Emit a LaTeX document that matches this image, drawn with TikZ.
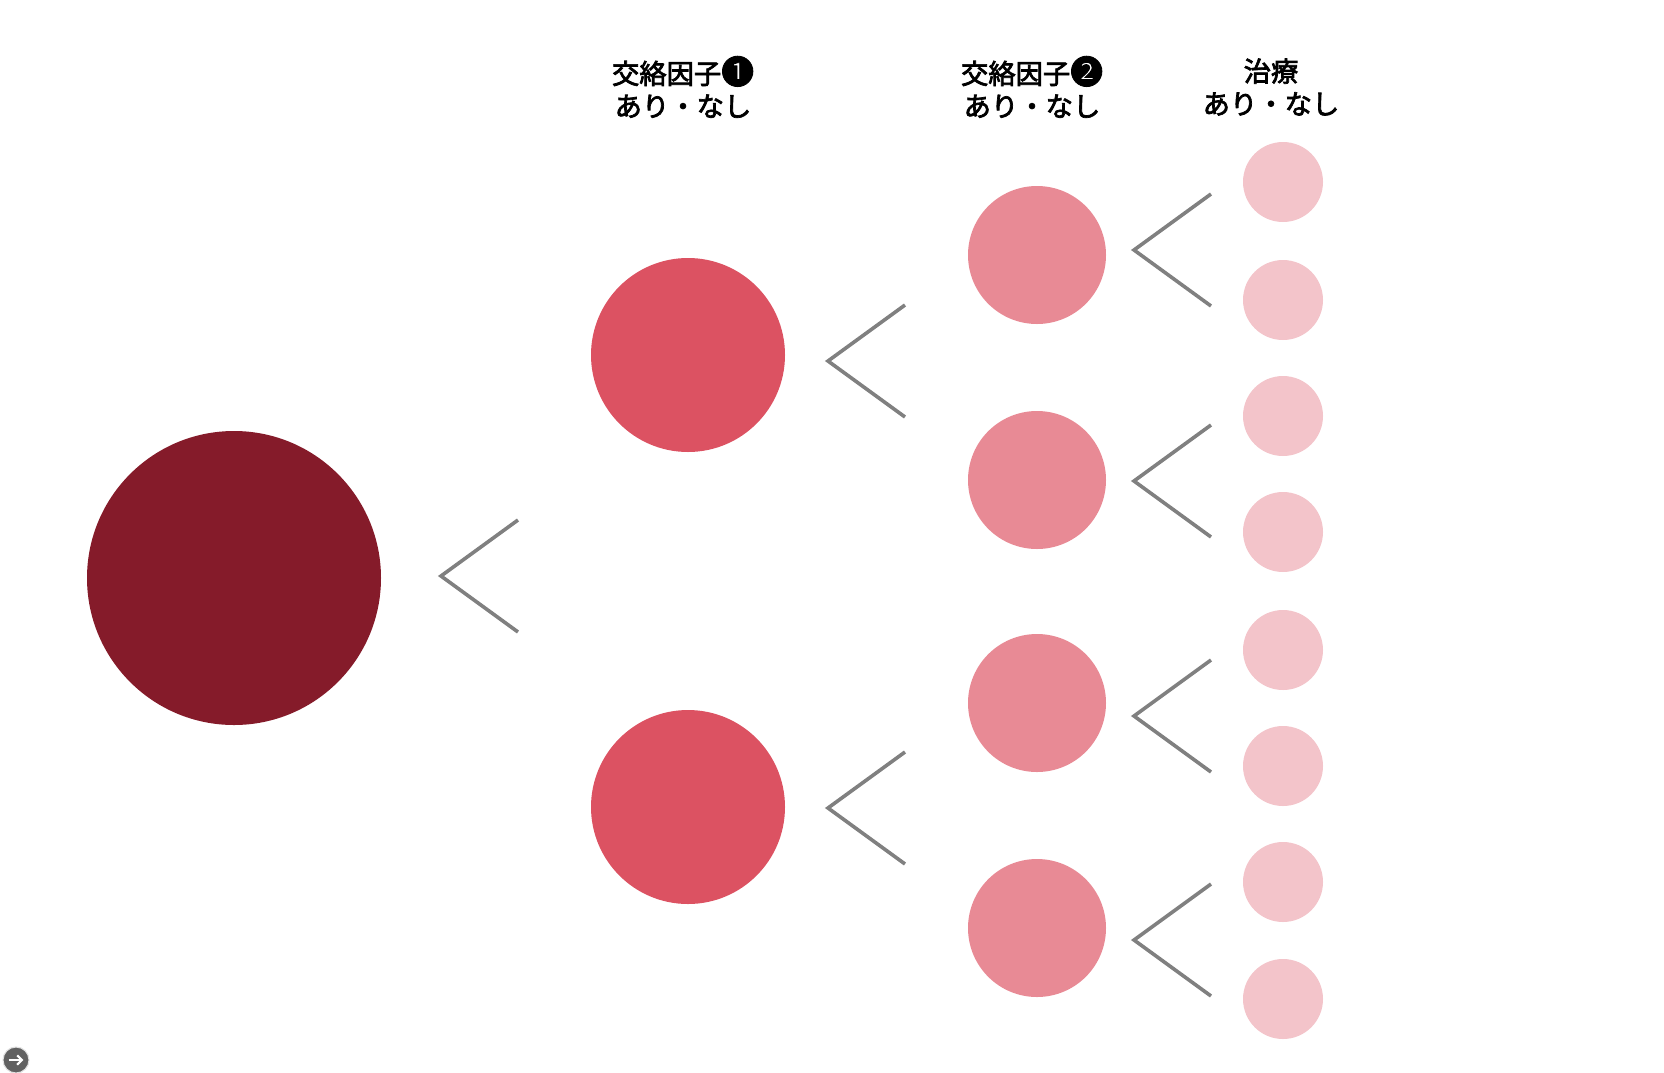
\documentclass[tikz,border=0pt]{standalone}
\usepackage{fontspec}
\usetikzlibrary{arrows.meta}
\setmainfont{Noto Sans CJK JP}
\newfontfamily\headfont[FakeBold=2.6]{Noto Sans CJK JP}
\definecolor{rootred}{RGB}{133,27,42}
\definecolor{lvonered}{RGB}{220,82,98}
\definecolor{lvtwored}{RGB}{232,138,149}
\definecolor{lvthreered}{RGB}{243,196,202}
\definecolor{chevgray}{RGB}{128,128,128}
\newcommand{\bignum}[1]{{\fontsize{24.5}{25}\selectfont #1}}
\tikzset{every picture/.style={line width=0.75pt}}
\tikzset{
  ball/.style={circle,inner sep=0pt,draw=none},
  chev/.style={draw=chevgray,line width=2.7pt,line join=miter},
  head/.style={inner sep=0.75pt,align=center,font=\headfont\fontsize{20.5}{24.5}\selectfont}
}

\begin{document}
\begin{tikzpicture}[x=0.75pt,y=0.75pt,yscale=-1,xscale=1]
	\useasboundingbox (0,0) rectangle (1664,1072);
	%Shape: Circle [root]
	\node [ball,fill=rootred,minimum size=220.5pt] (root) at (234,578) {};
	%Shape: Circle [factor 1]
	\node [ball,fill=lvonered,minimum size=145.5pt] (fa) at (688,355) {};
	\node [ball,fill=lvonered,minimum size=145.5pt] (fb) at (688,807) {};
	%Shape: Circle [factor 2]
	\node [ball,fill=lvtwored,minimum size=103.5pt] (ga) at (1037,255) {};
	\node [ball,fill=lvtwored,minimum size=103.5pt] (gb) at (1037,480) {};
	\node [ball,fill=lvtwored,minimum size=103.5pt] (gc) at (1037,703) {};
	\node [ball,fill=lvtwored,minimum size=103.5pt] (gd) at (1037,928) {};
	%Shape: Circle [treatment]
	\foreach \i/\y in {1/182,2/300,3/416,4/532,5/650,6/766,7/882,8/999}
		\node [ball,fill=lvthreered,minimum size=60pt] (t\i) at (1283,\y) {};
	
	%Straight Lines [chevrons]
	\coordinate (c0) at (441,576);
	\coordinate (c1) at (828,361);
	\coordinate (c2) at (828,808);
	\coordinate (c3) at (1134,250);
	\coordinate (c4) at (1134,481);
	\coordinate (c5) at (1134,716);
	\coordinate (c6) at (1134,940);
	\foreach \c in {c0,c1,c2,c3,c4,c5,c6}
		\draw [chev] (\c) ++(77,-56) -- (\c) -- ++(77,56) ;
	
	% Text Node
	\node [head] (hone) at (683,87) {交絡因子\bignum{❶}\\あり・なし};
	% Text Node
	\node [head] (htwo) at (1032,87) {交絡因子\bignum{❷}\\あり・なし};
	% Text Node
	\node [head] (hthree) at (1271,87) {治療\\あり・なし};
	
	%Shape: Circle [icon]
	\node [ball,fill=black!62,draw=black!12,line width=0.8pt,minimum size=19.5pt] (icon) at (16,1060) {};
	\draw [white,line width=1.6pt,-{Straight Barb[length=3.5pt]}] ([xshift=-5.5pt]icon.center) -- ([xshift=5.5pt]icon.center) ;
\end{tikzpicture}
\end{document}
